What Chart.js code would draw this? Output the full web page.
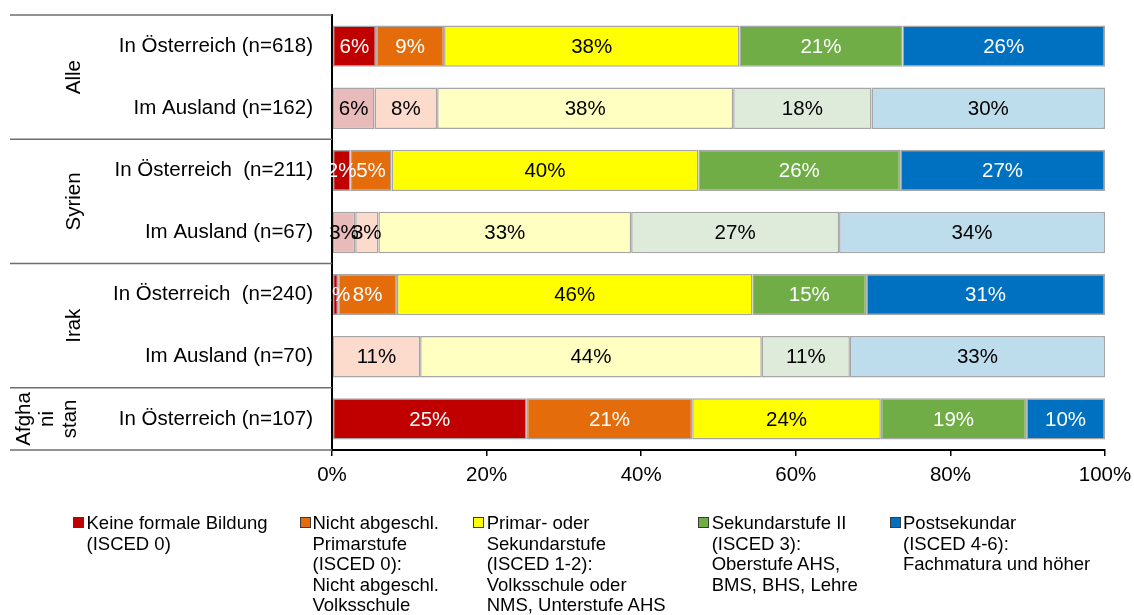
<!DOCTYPE html>
<html lang="de">
<head>
<meta charset="utf-8">
<title>Bildungsniveau nach Herkunft und Ort der Bildung</title>
<script src="https://cdn.jsdelivr.net/npm/chart.js@4.4.1/dist/chart.umd.min.js"></script>
<style>
  html, body { margin: 0; padding: 0; background: #fff; }
  body { width: 1134px; height: 615px; position: relative; overflow: hidden;
         font-family: "Liberation Sans", Arial, sans-serif; }
  #chart { position: absolute; left: 0; top: 0; }
  .lg-box { position: absolute; width: 9px; height: 9px; border: 1px solid #3a3a3a; }
  .lg-text { position: absolute; font-size: 18.5px; line-height: 20.5px; color: #000; white-space: nowrap; }
</style>
</head>
<body>
<canvas id="chart" width="1134" height="615"></canvas>
<div id="legend"></div>
<script>
// Rows of the chart (top to bottom)
const categories = [
  'In Österreich (n=618)',
  'Im Ausland (n=162)',
  'In Österreich  (n=211)',
  'Im Ausland (n=67)',
  'In Österreich  (n=240)',
  'Im Ausland (n=70)',
  'In Österreich (n=107)'
];
// true = education completed abroad (pale bar colours)
const abroad = [false, true, false, true, false, true, false];

// Country groups: label lines, first row, last row
const groupLabels = [['Alle'], ['Syrien'], ['Irak'], ['Afgha', 'ni', 'stan']];
const groupFirstRow = [0, 2, 4, 6];
const groupLastRow = [1, 3, 5, 6];

// Education levels (legend lines)
const seriesNames = [
  ['Keine formale Bildung', '(ISCED 0)'],
  ['Nicht abgeschl.', 'Primarstufe', '(ISCED 0):', 'Nicht abgeschl.', 'Volksschule'],
  ['Primar- oder', 'Sekundarstufe', '(ISCED 1-2):', 'Volksschule oder', 'NMS, Unterstufe AHS'],
  ['Sekundarstufe II', '(ISCED 3):', 'Oberstufe AHS,', 'BMS, BHS, Lehre'],
  ['Postsekundar', '(ISCED 4-6):', 'Fachmatura und höher']
];

// Shares in percent per row
const keineBildung      = [5.7, 5.5, 2.4, 3.0, 0.8, 0,    25.2];
const nichtAbgeschl     = [8.8, 8.1, 5.3, 3.0, 7.6, 11.4, 21.4];
const primarSekundar    = [38.2, 38.3, 39.7, 32.7, 46.0, 44.2, 24.4];
const sekundarstufeII   = [21.1, 17.9, 26.1, 26.9, 14.7, 11.4, 18.8];
const postsekundar      = [26.2, 30.2, 26.5, 34.4, 30.9, 33.0, 10.2];

// x-axis ticks
const xTicks = [0, 20, 40, 60, 80, 100];

const seriesValues = [keineBildung, nichtAbgeschl, primarSekundar, sekundarstufeII, postsekundar];
const strongColors = ['#C00000', '#E46C0A', '#FFFF00', '#70AD47', '#0070C0'];
const paleColors   = ['#E8BABA', '#FCDBCC', '#FFFFC2', '#DEEBDA', '#BDDDED'];
const strongText   = ['#FFFFFF', '#FFFFFF', '#000000', '#FFFFFF', '#FFFFFF'];

const FONT = '"Liberation Sans", Arial, sans-serif';
const FONT_SIZE = 20.5;

const datasets = seriesValues.map((vals, i) => ({
  label: seriesNames[i].join(' '),
  data: vals,
  backgroundColor: abroad.map(a => a ? paleColors[i] : strongColors[i]),
  borderColor: '#A6A6A6',
  borderWidth: 1.5,
  borderSkipped: false,
  barPercentage: 0.665,
  categoryPercentage: 1.0
}));

// Percent labels centred in each segment
const segmentLabels = {
  id: 'segmentLabels',
  afterDatasetsDraw(chart) {
    const ctx = chart.ctx;
    ctx.save();
    ctx.font = FONT_SIZE + 'px ' + FONT;
    ctx.textAlign = 'center';
    ctx.textBaseline = 'middle';
    chart.data.datasets.forEach((ds, i) => {
      const meta = chart.getDatasetMeta(i);
      meta.data.forEach((bar, j) => {
        const v = ds.data[j];
        if (!v) return;
        ctx.fillStyle = abroad[j] ? '#000000' : strongText[i];
        ctx.fillText(Math.round(v) + '%', (bar.x + bar.base) / 2, bar.y + 1);
      });
    });
    ctx.restore();
  }
};

// Group separators and rotated country names left of the row labels
const groupFrame = {
  id: 'groupFrame',
  afterDraw(chart) {
    const ctx = chart.ctx;
    const y = chart.scales.y;
    const half = (y.getPixelForValue(1) - y.getPixelForValue(0)) / 2;
    const left = 10, right = chart.chartArea.left;
    ctx.save();
    ctx.strokeStyle = '#6E6E6E';
    ctx.lineWidth = 1.5;
    const edges = [y.getPixelForValue(0) - half];
    groupLastRow.forEach(r => edges.push(y.getPixelForValue(r) + half));
    edges.forEach(e => {
      ctx.beginPath();
      ctx.moveTo(left, e);
      ctx.lineTo(right, e);
      ctx.stroke();
    });
    ctx.fillStyle = '#000';
    ctx.font = FONT_SIZE + 'px ' + FONT;
    ctx.textAlign = 'center';
    ctx.textBaseline = 'middle';
    groupLabels.forEach((lines, g) => {
      const cy = (y.getPixelForValue(groupFirstRow[g]) + y.getPixelForValue(groupLastRow[g])) / 2;
      const lineGap = 23;
      const cx = lines.length > 1 ? 47 : 74;
      lines.forEach((t, k) => {
        const lx = cx + (k - (lines.length - 1) / 2) * lineGap;
        ctx.save();
        ctx.translate(lx, cy);
        ctx.rotate(-Math.PI / 2);
        ctx.fillText(t, 0, 0);
        ctx.restore();
      });
    });
    ctx.restore();
  }
};

new Chart(document.getElementById('chart'), {
  type: 'bar',
  data: { labels: categories, datasets },
  options: {
    indexAxis: 'y',
    responsive: false,
    animation: false,
    devicePixelRatio: 1,
    layout: { padding: { top: 15, right: 29, bottom: 0, left: 0 } },
    plugins: { legend: { display: false }, tooltip: { enabled: false } },
    scales: {
      x: {
        stacked: true,
        min: 0,
        max: 100,
        afterBuildTicks: s => { s.ticks = xTicks.map(v => ({ value: v })); },
        ticks: {
          callback: v => v + '%',
          color: '#000',
          font: { family: FONT, size: FONT_SIZE },
          padding: 7,
          maxRotation: 0
        },
        grid: { drawOnChartArea: false, drawTicks: true, tickLength: 6, color: '#000', lineWidth: 1.5 },
        border: { color: '#000', width: 2 },
        afterFit: s => { s.height = 165; s.paddingLeft = 0; s.paddingRight = 0; }
      },
      y: {
        stacked: true,
        ticks: {
          color: '#000',
          font: { family: FONT, size: FONT_SIZE },
          padding: 19
        },
        grid: { drawOnChartArea: false, drawTicks: false },
        border: { color: '#000', width: 2 },
        afterFit: s => { s.width = 332; s.paddingTop = 0; s.paddingBottom = 0; }
      }
    }
  },
  plugins: [segmentLabels, groupFrame]
});

// Legend below the chart
const legendPos = [
  { box: 73, text: 86.5 },
  { box: 300, text: 312.5 },
  { box: 473.3, text: 486.7 },
  { box: 698.3, text: 711.7 },
  { box: 889.7, text: 903 }
];
const legend = document.getElementById('legend');
seriesNames.forEach((lines, i) => {
  const box = document.createElement('div');
  box.className = 'lg-box';
  box.style.left = legendPos[i].box + 'px';
  box.style.top = '517px';
  box.style.background = strongColors[i];
  legend.appendChild(box);
  const txt = document.createElement('div');
  txt.className = 'lg-text';
  txt.style.left = legendPos[i].text + 'px';
  txt.style.top = '513px';
  lines.forEach((l, k) => {
    if (k) txt.appendChild(document.createElement('br'));
    txt.appendChild(document.createTextNode(l));
  });
  legend.appendChild(txt);
});
</script>
</body>
</html>
